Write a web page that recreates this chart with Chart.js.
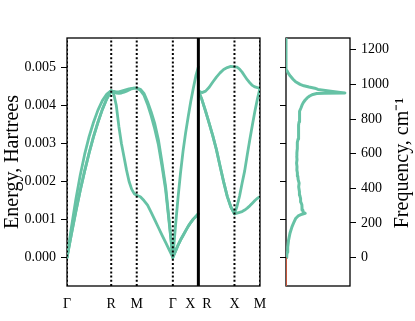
<!DOCTYPE html>
<html>
<head>
<meta charset="utf-8">
<script src="https://cdn.jsdelivr.net/npm/chart.js@4"></script>
<style>
  body { margin: 0; background: #fff; }
  #wrap { position: relative; width: 415px; height: 321px; }
  canvas { position: absolute; left: 0; top: 0; }
</style>
</head>
<body>
<div id="wrap">
  <canvas id="bands" width="415" height="321"></canvas>
  <canvas id="dos" width="415" height="321"></canvas>
</div>
<script>
// k-path: Γ-R-M-Γ-X | R-X-M
const kLabels = ['Γ', 'R', 'M', 'Γ', 'X\u2002R', 'X', 'M'];
const kTicks = [0, 0.8660, 1.3660, 2.0731, 2.5731, 3.2802, 3.7802];
const kFrac = [0, 0.1, 0.2, 0.3, 0.4, 0.5, 0.6, 0.7, 0.8, 0.9, 1];

// band energies (Hartree), one row per path segment
const band1 = [
  [0, .00062, .00121, .00177, .00228, .00275, .00318, .00356, .00390, .00418, .00439],
  [.00439, .00430, .00400, .00345, .00300, .00265, .00230, .00200, .00180, .00168, .00164],
  [.00164, .00160, .00150, .00138, .00119, .00099, .00079, .00059, .00040, .00020, 0],
  [0, .00016, .00032, .00046, .00058, .00070, .00082, .00092, .00101, .00108, .00115],
  [.00439, .00415, .00385, .00353, .00320, .00284, .00241, .00199, .00161, .00133, .00115],
  [.00115, .00117, .00119, .00121, .00125, .00130, .00136, .00143, .00150, .00156, .00160]
];
const band2 = [
  [0, .00062, .00121, .00177, .00228, .00275, .00318, .00356, .00390, .00418, .00439],
  [.00439, .00437, .00436, .00436, .00438, .00440, .00442, .00444, .00445, .00446, .00446],
  [.00446, .00440, .00427, .00403, .00373, .00338, .00297, .00240, .00178, .00090, 0],
  [0, .00016, .00032, .00046, .00058, .00070, .00082, .00092, .00101, .00108, .00115],
  [.00439, .00415, .00385, .00353, .00320, .00284, .00241, .00199, .00161, .00133, .00115],
  [.00115, .00135, .00162, .00196, .00228, .00270, .00310, .00348, .00385, .00418, .00446]
];
const band3 = [
  [0, .00080, .00153, .00217, .00272, .00318, .00356, .00388, .00413, .00430, .00439],
  [.00439, .00436, .00433, .00432, .00433, .00435, .00438, .00441, .00444, .00446, .00446],
  [.00446, .00443, .00432, .00410, .00383, .00352, .00310, .00250, .00187, .00095, 0],
  [0, .00080, .00155, .00222, .00280, .00328, .00370, .00410, .00445, .00478, .00502],
  [.00439, .00434, .00438, .00448, .00462, .00475, .00486, .00495, .00500, .00503, .00502],
  [.00502, .00501, .00496, .00488, .00478, .00468, .00460, .00453, .00449, .00447, .00446]
];

// density of states vs frequency (cm^-1)
const dosFreq = [0, 10, 30, 60, 100, 140, 177, 205, 225, 240, 250, 255, 262, 275, 290, 305, 320, 340, 360, 380,
  408, 430, 450, 470, 490, 505, 525, 545, 565, 585, 605, 625, 645, 665, 685, 705, 725, 745, 765, 785,
  805, 825, 845, 865, 880, 895, 910, 922, 933, 942, 947, 949, 951, 954, 961, 971, 978, 985, 992, 1000,
  1015, 1030, 1048, 1065, 1080, 1096, 1270];
const dosVal = [0, .012, .018, .027, .040, .062, .093, .125, .150, .190, .250, .300, .270, .262, .250, .248, .232, .228, .215, .210,
  .198, .205, .190, .185, .178, .170, .172, .165, .172, .168, .170, .175, .172, .182, .190, .195, .193, .200, .198, .205,
  .208, .210, .218, .235, .250, .270, .300, .330, .370, .420, .480, .600, .920, .850, .700, .500, .450, .360, .280, .220,
  .150, .110, .067, .035, .015, 0, 0];
const negFreq = [-170, 0];
const negVal = [0, 0];

const energyTicks = [0, 0.001, 0.002, 0.003, 0.004, 0.005];
const freqTicks = [0, 200, 400, 600, 800, 1000, 1200];

const eMin = -0.00075, eMax = 0.005778;
const haToCm = 219474.63;
const green = '#66c2a5';

Chart.defaults.font.family = '"Liberation Serif"';
Chart.defaults.color = '#000';

const boxPlugin = {
  id: 'box',
  beforeDatasetsDraw(chart) {
    const a = chart.chartArea, ctx = chart.ctx;
    ctx.save();
    ctx.strokeStyle = '#000';
    ctx.lineWidth = 1.3;
    ctx.strokeRect(a.left, a.top, a.right - a.left, a.bottom - a.top);
    ctx.restore();
  }
};

function bandPoints(band) {
  const pts = [];
  band.forEach((seg, s) => {
    const k0 = kTicks[s], k1 = kTicks[s + 1];
    if (s === 4) pts.push({ x: kTicks[4], y: null });
    seg.forEach((e, i) => {
      if (i === 0 && s > 0 && s !== 4) return;
      pts.push({ x: k0 + kFrac[i] * (k1 - k0), y: e });
    });
  });
  return pts;
}

const vLines = kTicks.map((k, i) => ({
  data: [{ x: k, y: eMin }, { x: k, y: eMax }],
  borderColor: '#000',
  borderWidth: i === 4 ? 3 : 2,
  borderDash: i === 4 ? [] : [2, 2.2],
  pointRadius: 0
}));

const bandSets = [band1, band2, band3].map(b => ({
  data: bandPoints(b),
  borderColor: green,
  borderWidth: 2.8,
  borderJoinStyle: 'round',
  borderCapStyle: 'round',
  pointRadius: 0,
  spanGaps: false
}));

new Chart(document.getElementById('bands'), {
  type: 'line',
  data: { datasets: vLines.concat(bandSets) },
  options: {
    responsive: false,
    animation: false,
    layout: { padding: { left: 0, right: 155, top: 38, bottom: 5 } },
    plugins: { legend: { display: false }, tooltip: { enabled: false } },
    scales: {
      x: {
        type: 'linear',
        min: 0,
        max: kTicks[kTicks.length - 1],
        afterBuildTicks: s => { s.ticks = kTicks.map(v => ({ value: v })); },
        afterFit: s => { s.height = 30; },
        grid: { display: false },
        border: { display: false },
        ticks: {
          autoSkip: false, maxRotation: 0, padding: 2,
          font: { size: 14 },
          callback: (v, i) => kLabels[i]
        }
      },
      y: {
        type: 'linear',
        min: eMin,
        max: eMax,
        afterBuildTicks: s => { s.ticks = energyTicks.map(v => ({ value: v })); },
        afterFit: s => { s.width = 67; },
        grid: { drawOnChartArea: false, tickLength: 6, color: '#000' },
        border: { display: false },
        ticks: { padding: 5, font: { size: 14 }, callback: v => v.toFixed(3) },
        title: {
          display: true, text: 'Energy, Hartrees',
          font: { size: 20 }, padding: { top: 1, bottom: 0 }
        }
      }
    }
  },
  plugins: [boxPlugin]
});

const titlePlugin = {
  id: 'rightTitle',
  afterDraw(chart) {
    const ctx = chart.ctx;
    ctx.save();
    ctx.translate(403, 163);
    ctx.rotate(-Math.PI / 2);
    ctx.font = '20px "Liberation Serif"';
    ctx.fillStyle = '#000';
    ctx.textAlign = 'center';
    ctx.textBaseline = 'middle';
    ctx.fillText('Frequency, cm\u207B\u00B9', 0, 0);
    ctx.restore();
  }
};

new Chart(document.getElementById('dos'), {
  type: 'line',
  data: {
    datasets: [
      {
        data: negFreq.map((f, i) => ({ x: negVal[i], y: f })),
        borderColor: '#c4553a', borderWidth: 2, pointRadius: 0
      },
      {
        data: dosFreq.map((f, i) => ({ x: dosVal[i], y: f })),
        borderColor: green, borderWidth: 3, pointRadius: 0,
        borderJoinStyle: 'round'
      }
    ]
  },
  options: {
    responsive: false,
    animation: false,
    layout: { padding: { left: 280, right: 0, top: 38, bottom: 35 } },
    plugins: { legend: { display: false }, tooltip: { enabled: false } },
    scales: {
      x: { type: 'linear', min: 0, max: 1, display: false },
      y: {
        type: 'linear',
        position: 'right',
        min: eMin * haToCm,
        max: eMax * haToCm,
        afterBuildTicks: s => { s.ticks = freqTicks.map(v => ({ value: v })); },
        afterFit: s => { s.width = 65; },
        grid: { drawOnChartArea: false, tickLength: 6, color: '#000' },
        border: { display: false },
        ticks: { padding: 5, font: { size: 14 }, callback: v => String(v) }
      },
      e: {
        type: 'linear',
        position: 'left',
        min: eMin,
        max: eMax,
        afterBuildTicks: s => { s.ticks = energyTicks.map(v => ({ value: v })); },
        afterFit: s => { s.width = 6; },
        grid: { drawOnChartArea: false, tickLength: 6, color: '#000' },
        border: { display: false },
        ticks: { display: false }
      }
    }
  },
  plugins: [boxPlugin, titlePlugin]
});
</script>
</body>
</html>
